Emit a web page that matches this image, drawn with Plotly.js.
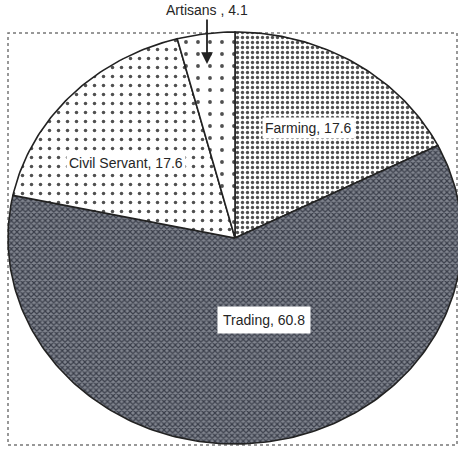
<!DOCTYPE html>
<html><head><meta charset="utf-8">
<script src="https://cdn.plot.ly/plotly-3.0.1.min.js"></script>
<style>html,body{margin:0;padding:0;background:#fff;}#chart{width:458px;height:449px;}</style>
</head><body><div id="chart"></div>
<script>
const categories = ['Farming', 'Trading', 'Civil Servant', 'Artisans'];
const values = [17.6, 60.8, 17.6, 4.1];
const labelTexts = ['Farming, 17.6', 'Trading, 60.8', 'Civil Servant, 17.6', 'Artisans , 4.1'];

const patterns = [
  {shape: '.', bgcolor: '#ffffff', fgcolor: '#505050', size: 5, solidity: 0.35},
  {shape: 'x', bgcolor: '#80848e', fgcolor: '#3a3e4a', size: 4, solidity: 0.5},
  {shape: '.', bgcolor: '#ffffff', fgcolor: '#505050', size: 9, solidity: 0.12},
  {shape: '.', bgcolor: '#ffffff', fgcolor: '#505050', size: 12, solidity: 0.08}
];

const total = values.reduce((a, b) => a + b, 0);
const traces = [];
let acc = 0;
values.forEach((v, i) => {
  const a0 = acc / total * 2 * Math.PI;
  acc += v;
  const a1 = acc / total * 2 * Math.PI;
  const xs = [0], ys = [0];
  const n = Math.max(2, Math.ceil((a1 - a0) / (Math.PI / 180)));
  for (let k = 0; k <= n; k++) {
    const t = a0 + (a1 - a0) * k / n;
    xs.push(Math.sin(t)); ys.push(Math.cos(t));
  }
  xs.push(0); ys.push(0);
  traces.push({
    type: 'scatter', mode: 'lines', x: xs, y: ys, name: categories[i],
    fill: 'toself', fillcolor: patterns[i].bgcolor, fillpattern: patterns[i],
    line: {color: '#222222', width: 1.6}, hoverinfo: 'skip', showlegend: false
  });
});

// pixel geometry of the reference (centre 235,238; radii 227 x 206)
const cx = 235, cy = 238, rx = 227, ry = 206, W = 458, H = 449;
const px = x => (x - cx) / rx, py = y => (cy - y) / ry;

const font = {family: 'Liberation Sans, Arial, sans-serif', size: 14, color: '#262626'};
const annotations = [
  {x: px(308), y: py(128), text: labelTexts[0], showarrow: false, bgcolor: '#ffffff', borderpad: 2, font: font},
  {x: px(264), y: py(320), text: labelTexts[1], showarrow: false, bgcolor: '#ffffff', borderpad: 5, font: font},
  {x: px(126), y: py(163), text: labelTexts[2], showarrow: false, bgcolor: '#ffffff', borderpad: 2, font: font},
  {x: px(207), y: py(64), ax: px(207), ay: py(10), axref: 'x', ayref: 'y', text: labelTexts[3],
   showarrow: true, arrowhead: 2, arrowsize: 1.3, arrowwidth: 1.8, arrowcolor: '#222222', standoff: 0, font: font}
];

const layout = {
  width: W, height: H, margin: {l: 0, r: 0, t: 0, b: 0},
  paper_bgcolor: '#ffffff', plot_bgcolor: 'rgba(0,0,0,0)',
  xaxis: {range: [px(0), px(W)], visible: false, fixedrange: true},
  yaxis: {range: [py(H), py(0)], visible: false, fixedrange: true},
  showlegend: false,
  shapes: [{type: 'rect', xref: 'paper', yref: 'paper', x0: 8 / W, x1: 457 / W, y0: (H - 445) / H, y1: (H - 33) / H,
            line: {color: '#777777', width: 1.5, dash: 'dot'}, layer: 'below'}],
  annotations: annotations
};

Plotly.newPlot('chart', traces, layout, {staticPlot: true, displayModeBar: false});
</script></body></html>
